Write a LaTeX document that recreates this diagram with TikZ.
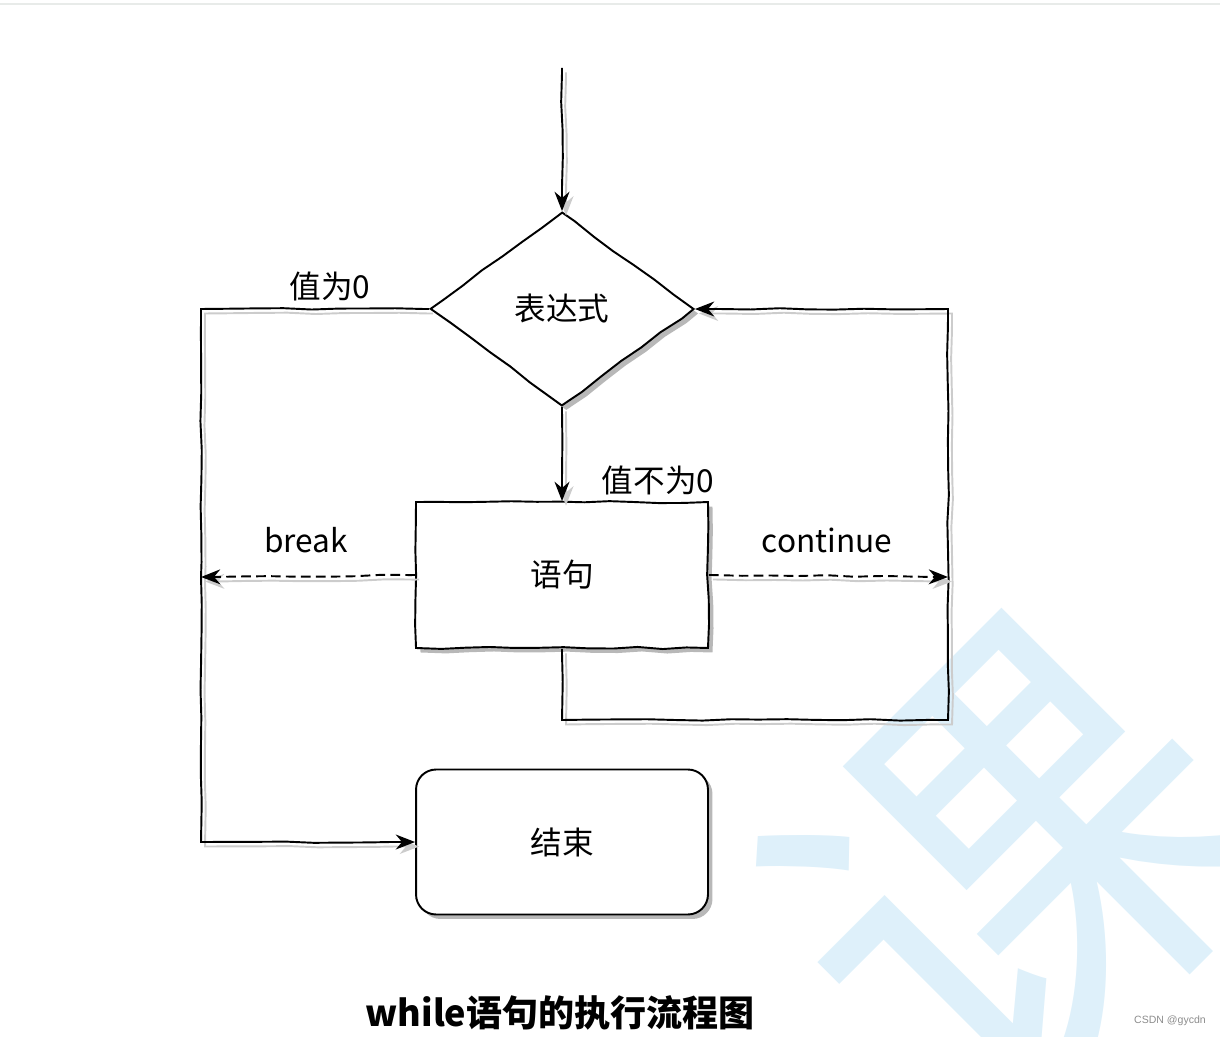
\documentclass[tikz,border=0pt]{standalone}
\usepackage{fontspec}
\setmainfont{Noto Sans CJK SC}
\newfontfamily\markfont{Liberation Sans}
\usetikzlibrary{shapes,arrows,arrows.meta,positioning,calc,shadows,decorations.pathmorphing}

\definecolor{wmblue}{RGB}{222,240,250}
\definecolor{rulegray}{RGB}{232,235,233}

\tikzset{
  tip/.style={-{Stealth[length=11pt, width=8.5pt]}},
  wobble/.style={decorate, decoration={random steps, segment length=16pt, amplitude=0.5pt, pre length=3pt, post length=14pt}},
  flow/.style={draw, line width=1.1pt, wobble,
    preaction={draw=black!20, line width=1.1pt, transform canvas={xshift=0.08cm, yshift=-0.09cm}}},
  jump/.style={flow, dash pattern=on 5.5pt off 3pt},
  shade/.style={drop shadow={shadow xshift=0.09cm, shadow yshift=-0.09cm, fill=black!28, opacity=1}},
  decision/.style={diamond, draw, line width=1.1pt, fill=white, aspect=1.36, minimum width=5.28cm,
    minimum height=3.88cm, inner sep=0pt, shade, decorate,
    decoration={random steps, segment length=14pt, amplitude=0.6pt}},
  stepbox/.style={rectangle, draw, line width=1.1pt, fill=white, minimum width=5.84cm, minimum height=2.92cm,
    shade, decorate, decoration={random steps, segment length=14pt, amplitude=0.6pt}},
  stopbox/.style={rectangle, rounded corners=0.4cm, draw, line width=1.1pt, fill=white, minimum width=5.84cm,
    minimum height=2.9cm, shade},
  lbl/.style={inner sep=0pt, font=\fontsize{18pt}{20pt}\selectfont}
}

\pgfmathsetseed{7}

\begin{document}
\begin{tikzpicture}[x=0.02cm, y=-0.02cm]
\useasboundingbox (0,0) rectangle (1220,1037);
\clip (0,0) rectangle (1220,1037);

% watermark and page rule
\node[text=wmblue, rotate=45, inner sep=0pt, font=\fontsize{255pt}{255pt}\selectfont] (wm) at (1012,868) {课};
\draw[rulegray, line width=1.6pt] (0,4) -- (1220,4);

% Draw boxes
\node[decision, lbl] (expr) at (562,309) {表达式};
\node[stepbox, lbl] (stmt) at (562,575) {语句};
\node[stopbox, lbl] (stop) at (562,842) {结束};

\coordinate (start) at (562,68);
\coordinate (lloop) at (201,577);
\coordinate (rloop) at (948,577);
\coordinate (rbot) at (948,720);

% Draw flow
\draw[flow, tip] (start) -- (expr.north);
\draw[flow, tip] (expr.south) -- (stmt.north);
\draw[flow, tip] (expr.west) -| (lloop) |- (stop.west);
\draw[flow, tip] (stmt.south) |- (rbot) |- (expr.east);
\draw[jump, tip] (stmt.west) -- (lloop);
\draw[jump, tip] (stmt.east) -- (rloop);

% Add labels
\node[lbl] (zero) at (330,286) {值为0};
\node[lbl] (nonzero) at (658,480) {值不为0};
\node[lbl] (brk) at (306,540) {break};
\node[lbl] (cont) at (827,540) {continue};
\node[inner sep=0pt, font=\fontsize{20.5pt}{24pt}\selectfont\bfseries] (title) at (560,1013) {while语句的执行流程图};
\node[inner sep=0pt, text=black!45, font=\markfont\fontsize{6pt}{7pt}\selectfont] (csdn) at (1170,1021) {CSDN @gycdn};
\end{tikzpicture}
\end{document}
